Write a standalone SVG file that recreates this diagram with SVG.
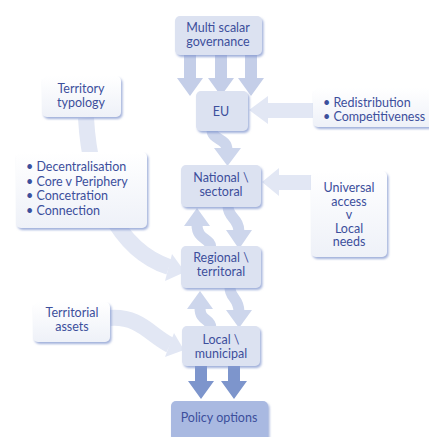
<svg xmlns="http://www.w3.org/2000/svg" width="429" height="437" viewBox="0 0 429 437">
<defs>
<style>
.t{font-family:Lato,"Open Sans","DejaVu Sans",sans-serif;font-size:12.5px;fill:#3c4f9c;text-anchor:middle}
.tl{font-family:Lato,"Open Sans","DejaVu Sans",sans-serif;font-size:12.5px;fill:#3c4f9c;text-anchor:start}
.cb{fill:#dce2f1;filter:url(#sh)}
.sb{fill:url(#sg);filter:url(#sh)}
.pb{fill:#a9b9e1;filter:url(#sh)}
.a1{fill:#c4cee8}
.s1{fill:none;stroke:#cdd6ec;stroke-width:11}
.h1{fill:#cdd6ec}
.lt{fill:#e2e7f4}
.ls{fill:none;stroke:#e2e7f4;stroke-width:16}
.dk{fill:#7d95cc}
</style>
<linearGradient id="sg" x1="0" y1="0" x2="0" y2="1">
<stop offset="0" stop-color="#ffffff"/>
<stop offset="1" stop-color="#eef1f8"/>
</linearGradient>
<filter id="sh" x="-10%" y="-10%" width="125%" height="130%">
<feDropShadow dx="1.5" dy="2" stdDeviation="0.8" flood-color="#8397cf" flood-opacity="0.75"/>
</filter>
</defs>

<g id="connectors">
<path class="ls" d="M86,118 C90,190 118,250 169,267"/>
<polygon class="lt" points="185,272 165,281 172,254"/>
<path class="ls" d="M110,318 C140,316 150,335 170,345"/>
<polygon class="lt" points="184,350 165,357 174,333"/>
<rect class="lt" x="266" y="103" width="48" height="15"/>
<polygon class="lt" points="249,110 268,96 268,124"/>
<rect class="lt" x="276" y="175" width="37" height="15"/>
<polygon class="lt" points="262,182 279,168 279,196"/>
<path class="a1" d="M184,54 L196,54 L196,78 L203,78 L190,96 L177,78 L184,78 Z"/>
<path class="a1" d="M215,54 L227,54 L227,78 L234,78 L221,96 L208,78 L215,78 Z"/>
<path class="a1" d="M245,54 L257,54 L257,78 L264,78 L251,96 L238,78 L245,78 Z"/>
<path class="s1" d="M212,130 C212,140 227,138 227,150"/>
<polygon class="h1" points="214,148 241,148 227.5,166"/>
<path class="s1" d="M197,225 C197,240 211,238 211,248"/>
<polygon class="h1" points="197,208 210,226 184,226"/>
<path class="s1" d="M228,206 C228,218 239,218 239,232"/>
<polygon class="h1" points="226,230 252,230 239,249"/>
<path class="s1" d="M200,308 C200,322 211,318 211,328"/>
<polygon class="h1" points="200,291 213,309 187,309"/>
<path class="s1" d="M230,288 C230,298 239,298 239,312"/>
<polygon class="h1" points="226,310 252,310 239,328"/>
<path class="dk" d="M195,366 L207,366 L207,381 L214,381 L201,399 L188,381 L195,381 Z"/>
<path class="dk" d="M228,366 L240,366 L240,381 L247,381 L234,399 L221,381 L228,381 Z"/>
</g>

<g id="msg">
<rect class="cb" x="175" y="16" width="87" height="39" rx="5"/>
<text class="t" x="218" y="32">Multi scalar</text>
<text class="t" x="218" y="46">governance</text>
</g>
<g id="eu">
<rect class="cb" x="196" y="91" width="52" height="40" rx="5"/>
<text class="t" x="221" y="116">EU</text>
</g>
<g id="national">
<rect class="cb" x="181" y="165" width="80" height="42" rx="5"/>
<text class="t" x="221" y="182">National \</text>
<text class="t" x="221" y="196">sectoral</text>
</g>
<g id="regional">
<rect class="cb" x="181" y="246" width="80" height="42" rx="5"/>
<text class="t" x="221" y="262">Regional \</text>
<text class="t" x="221" y="276">territoral</text>
</g>
<g id="local">
<rect class="cb" x="182" y="326" width="78" height="40" rx="5"/>
<text class="t" x="221" y="344">Local \</text>
<text class="t" x="221" y="358">municipal</text>
</g>
<g id="policy">
<rect class="pb" x="171" y="401" width="97" height="40" rx="5"/>
<text class="t" x="219" y="422">Policy options</text>
</g>
<g id="typology">
<rect class="sb" x="42" y="76" width="79" height="41" rx="5"/>
<text class="t" x="81" y="93">Territory</text>
<text class="t" x="81" y="107">typology</text>
</g>
<g id="list">
<rect class="sb" x="16" y="152" width="131" height="76" rx="5"/>
<text class="tl" x="26" y="171">• Decentralisation</text>
<text class="tl" x="26" y="185.5">• Core v Periphery</text>
<text class="tl" x="26" y="200">• Concetration</text>
<text class="tl" x="26" y="214.5">• Connection</text>
</g>
<g id="redistribution">
<rect class="sb" x="313" y="88" width="125" height="39" rx="5"/>
<text class="tl" x="323" y="107">• Redistribution</text>
<text class="tl" x="323" y="121">• Competitiveness</text>
</g>
<g id="universal">
<rect class="sb" x="311" y="171" width="76" height="86" rx="5"/>
<text class="t" x="349" y="192">Universal</text>
<text class="t" x="349" y="205.5">access</text>
<text class="t" x="349" y="219">v</text>
<text class="t" x="349" y="232.5">Local</text>
<text class="t" x="349" y="246">needs</text>
</g>
<g id="assets">
<rect class="sb" x="33" y="302" width="77" height="40" rx="5"/>
<text class="t" x="72" y="317">Territorial</text>
<text class="t" x="72" y="331">assets</text>
</g>
</svg>
